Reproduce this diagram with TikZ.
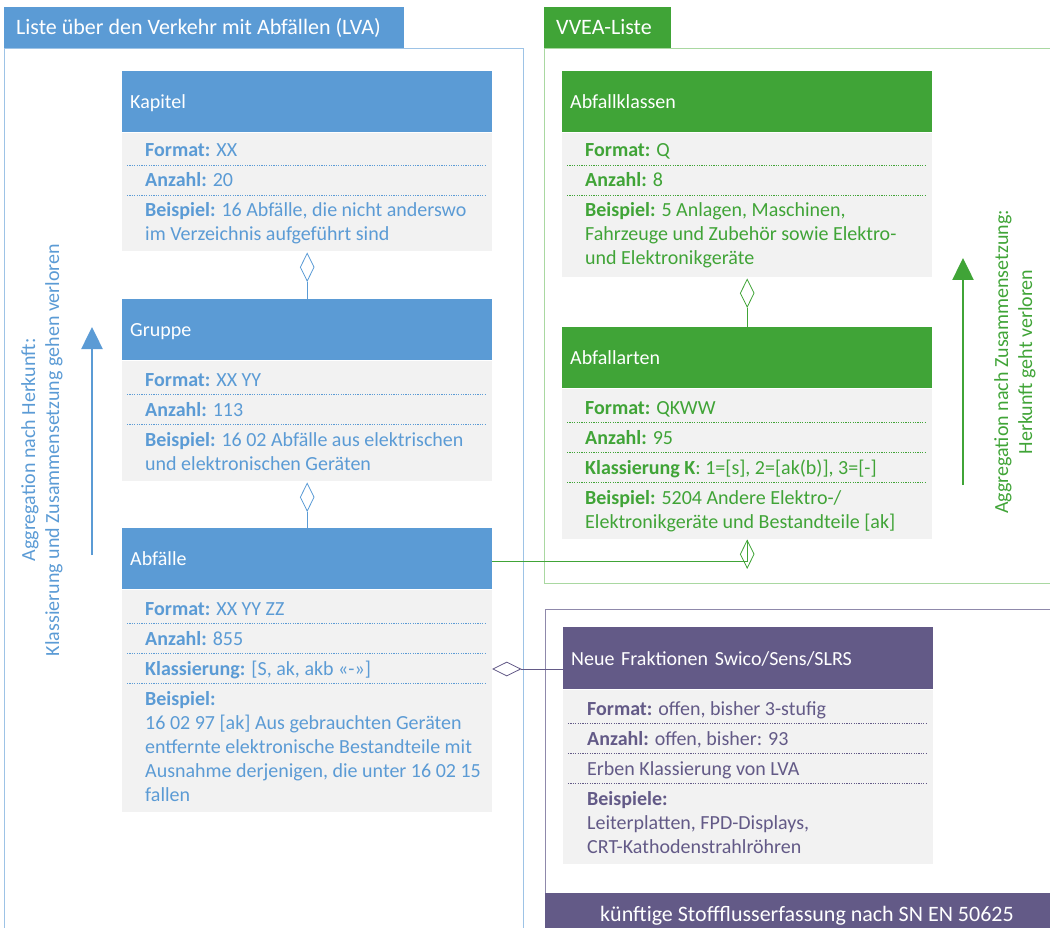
\documentclass[tikz,border=0pt]{standalone}
\usepackage{fontspec}
\setmainfont{Carlito}
\usetikzlibrary{arrows.meta,positioning,shapes.geometric}
\definecolor{lvablue}{HTML}{5B9BD5}
\definecolor{lvaframe}{HTML}{9DC3E6}
\definecolor{vveagreen}{HTML}{40A437}
\definecolor{vveaframe}{HTML}{A9D8A1}
\definecolor{swipurple}{HTML}{635A87}
\definecolor{swiframe}{HTML}{8F89AB}
\definecolor{bodygray}{HTML}{F2F2F2}
\newcommand{\celltext}[1]{\begin{tabular}[t]{@{}l@{}}#1\end{tabular}}
\newcommand{\titlefont}{\fontsize{22}{26}\selectfont}

\begin{document}
\begin{tikzpicture}[x=1pt, y=-1pt, font=\fontsize{20}{24}\selectfont,
	hdr/.style={anchor=north west, minimum width=370pt, minimum height=61pt, inner xsep=8pt, inner ysep=0pt, text width=354pt, text depth=0pt, align=left, text=white},
	bodybox/.style={fill=bodygray, minimum width=370pt, inner sep=0pt},
	row/.style={anchor=base west, inner sep=0pt},
	sep/.style={line width=0.8pt, dash pattern=on 1.2pt off 1.2pt},
	aggv/.style={diamond, draw, inner sep=0pt, minimum width=14pt, minimum height=28pt, line width=0.8pt},
	aggh/.style={diamond, draw, inner sep=0pt, minimum width=28pt, minimum height=14pt, line width=0.8pt},
	link/.style={line width=0.8pt},
	frame/.style={line width=1pt},
	bigarrow/.style={line width=2.5pt, -{Triangle[length=22pt, width=21pt]}}]
	\useasboundingbox (0,0) rectangle (1050,928);

	% LVA
	\fill[lvablue] (4,7) rectangle (404,49);
	\node[row, text=white, font=\titlefont] (lvatitle) at (16,35) {Liste über den Verkehr mit Abfällen (LVA)};
	\draw[frame, lvaframe] (4,928) -- (4,49) -- (523,49) -- (523,928);

	\node[hdr, fill=lvablue] (kap) at (122,71) {Kapitel};
	\node[bodybox, minimum height=118pt, below=0pt of kap] (kapb) {};
	\foreach \y in {165,195} \draw[sep, lvablue] (127,\y) -- (486,\y);
	\begin{scope}[text=lvablue]
		\node[row] (kapf) at (145,157) {\textbf{Format:} XX};
		\node[row] (kapa) at (145,187) {\textbf{Anzahl:} 20};
		\node[row] (kape) at (145,217) {\celltext{\textbf{Beispiel:} 16 Abfälle, die nicht anderswo\\im Verzeichnis aufgeführt sind}};
	\end{scope}

	\node[hdr, fill=lvablue] (grp) at (122,299) {Gruppe};
	\node[bodybox, minimum height=120pt, below=0pt of grp] (grpb) {};
	\foreach \y in {394,424} \draw[sep, lvablue] (127,\y) -- (486,\y);
	\begin{scope}[text=lvablue]
		\node[row] (grpf) at (145,386) {\textbf{Format:} XX YY};
		\node[row] (grpa) at (145,416) {\textbf{Anzahl:} 113};
		\node[row] (grpe) at (145,446) {\celltext{\textbf{Beispiel:} 16 02 Abfälle aus elektrischen\\und elektronischen Geräten}};
	\end{scope}

	\node[hdr, fill=lvablue] (abf) at (122,528) {Abfälle};
	\node[bodybox, minimum height=222pt, below=0pt of abf] (abfb) {};
	\foreach \y in {623,653,683} \draw[sep, lvablue] (127,\y) -- (486,\y);
	\begin{scope}[text=lvablue]
		\node[row] (abff) at (145,615) {\textbf{Format:} XX YY ZZ};
		\node[row] (abfa) at (145,645) {\textbf{Anzahl:} 855};
		\node[row] (abfk) at (145,675) {\textbf{Klassierung:} [S, ak, akb «-»]};
		\node[row] (abfe) at (145,705) {\celltext{\textbf{Beispiel:}\\16 02 97 [ak] Aus gebrauchten Geräten\\entfernte elektronische Bestandteile mit\\Ausnahme derjenigen, die unter 16 02 15\\fallen}};
	\end{scope}

	\node[aggv, draw=lvablue, below=2pt of kapb] (d1) {};
	\draw[link, lvablue] (d1.south) -- (grp.north);
	\node[aggv, draw=lvablue, below=2pt of grpb] (d2) {};
	\draw[link, lvablue] (d2.south) -- (abf.north);

	\coordinate (lvabot) at (92,555);
	\coordinate (lvatop) at (92,327);
	\draw[bigarrow, lvablue] (lvabot) -- (lvatop);
	\node[rotate=90, text=lvablue, align=center] (lvanote) at (42,450) {Aggregation nach Herkunft:\\Klassierung und Zusammensetzung gehen verloren};

	% VVEA
	\fill[vveagreen] (544,7) rectangle (671,49);
	\node[row, text=white, font=\titlefont] (vveatitle) at (556,35) {VVEA-Liste};
	\draw[frame, vveaframe] (1050,49) -- (544,49) -- (544,583) -- (1050,583);

	\node[hdr, fill=vveagreen] (kla) at (562,71) {Abfallklassen};
	\node[bodybox, minimum height=144pt, below=0pt of kla] (klab) {};
	\foreach \y in {165,195} \draw[sep, vveagreen] (567,\y) -- (926,\y);
	\begin{scope}[text=vveagreen]
		\node[row] (klaf) at (585,157) {\textbf{Format:} Q};
		\node[row] (klaa) at (585,187) {\textbf{Anzahl:} 8};
		\node[row] (klae) at (585,217) {\celltext{\textbf{Beispiel:} 5 Anlagen, Maschinen,\\Fahrzeuge und Zubehör sowie Elektro-\\und Elektronikgeräte}};
	\end{scope}

	\node[hdr, fill=vveagreen] (art) at (562,327) {Abfallarten};
	\node[bodybox, minimum height=150pt, below=0pt of art] (artb) {};
	\foreach \y in {422,452,482} \draw[sep, vveagreen] (567,\y) -- (926,\y);
	\begin{scope}[text=vveagreen]
		\node[row] (artf) at (585,414) {\textbf{Format:} QKWW};
		\node[row] (arta) at (585,444) {\textbf{Anzahl:} 95};
		\node[row] (artk) at (585,474) {\textbf{Klassierung K}: 1=[s], 2=[ak(b)], 3=[-]};
		\node[row] (arte) at (585,504) {\celltext{\textbf{Beispiel:} 5204 Andere Elektro-/\\Elektronikgeräte und Bestandteile [ak]}};
	\end{scope}

	\node[aggv, draw=vveagreen, below=2pt of klab] (d3) {};
	\draw[link, vveagreen] (d3.south) -- (art.north);
	\node[aggv, draw=vveagreen, below=1pt of artb] (d4) {};
	\draw[link, vveagreen] ([yshift=-3pt]abf.east) -| (d4.north);

	\coordinate (vveabot) at (963,485);
	\coordinate (vveatop) at (963,258);
	\draw[bigarrow, vveagreen] (vveabot) -- (vveatop);
	\node[rotate=90, text=vveagreen, align=center] (vveanote) at (1015,362) {Aggregation nach Zusammensetzung:\\Herkunft geht verloren};

	% Swico/Sens/SLRS
	\draw[frame, swiframe] (1050,609) -- (545,609) -- (545,893);
	\fill[swipurple] (545,893) rectangle (1050,928);
	\node[anchor=base, inner sep=0pt, text=white, font=\titlefont] (ssn) at (807,921) {künftige Stoffflusserfassung nach SN EN 50625};

	\node[hdr, fill=swipurple, minimum height=62pt] (neu) at (563,627) {Neue Fraktionen Swico/Sens/SLRS};
	\node[bodybox, minimum height=174pt, below=0pt of neu] (neub) {};
	\foreach \y in {723,753,783} \draw[sep, swipurple] (568,\y) -- (927,\y);
	\begin{scope}[text=swipurple]
		\node[row] (neuf) at (587,715) {\textbf{Format:} offen, bisher 3-stufig};
		\node[row] (neua) at (587,745) {\textbf{Anzahl:} offen, bisher: 93};
		\node[row] (neuk) at (587,775) {Erben Klassierung von LVA};
		\node[row] (neue) at (587,805) {\celltext{\textbf{Beispiele:}\\Leiterplatten, FPD-Displays,\\CRT-Kathodenstrahlröhren}};
	\end{scope}

	\node[aggh, draw=swipurple, anchor=west] (d5) at (abfb.east |- 0,669) {};
	\draw[link, swipurple] (d5.east) -- (neu.west |- d5.east);
\end{tikzpicture}
\end{document}
